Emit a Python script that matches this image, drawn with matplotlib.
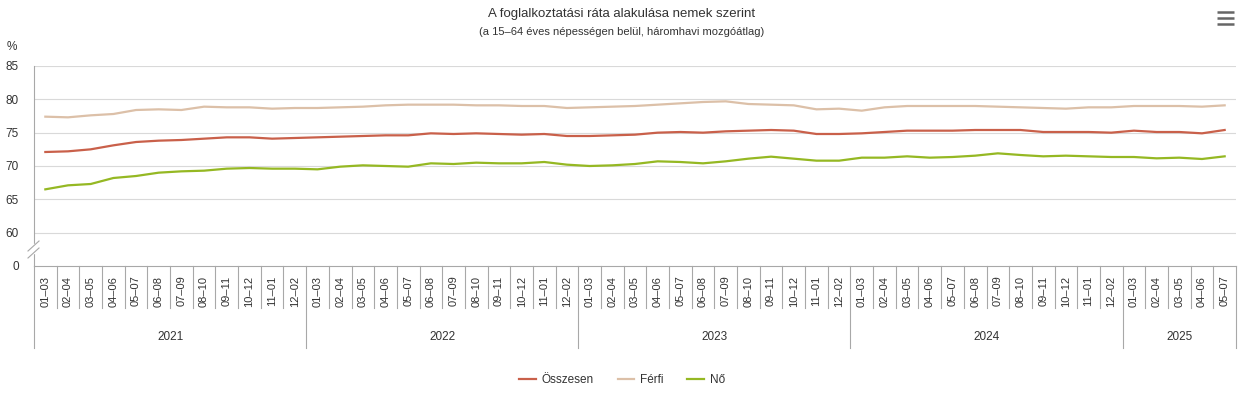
import matplotlib
matplotlib.use("Agg")
import matplotlib.pyplot as plt
from matplotlib.patches import Rectangle
from matplotlib.lines import Line2D
import matplotlib.transforms as mtransforms

plt.rcParams['font.family'] = ['Liberation Sans', 'DejaVu Sans']

years = ["2021", "2022", "2023", "2024", "2025"]
periods_full = ["01–03", "02–04", "03–05", "04–06", "05–07", "06–08",
                "07–09", "08–10", "09–11", "10–12", "11–01", "12–02"]
periods_per_year = [12, 12, 12, 12, 5]

osszesen = [72.1, 72.2, 72.5, 73.1, 73.6, 73.8, 73.9, 74.1, 74.3, 74.3, 74.1, 74.2,
            74.3, 74.4, 74.5, 74.6, 74.6, 74.9, 74.8, 74.9, 74.8, 74.7, 74.8, 74.5,
            74.5, 74.6, 74.7, 75.0, 75.1, 75.0, 75.2, 75.3, 75.4, 75.3, 74.8, 74.8,
            74.9, 75.1, 75.3, 75.3, 75.3, 75.4, 75.4, 75.4, 75.1, 75.1, 75.1, 75.0,
            75.3, 75.1, 75.1, 74.9, 75.4]
ferfi = [77.4, 77.3, 77.6, 77.8, 78.4, 78.5, 78.4, 78.9, 78.8, 78.8, 78.6, 78.7,
         78.7, 78.8, 78.9, 79.1, 79.2, 79.2, 79.2, 79.1, 79.1, 79.0, 79.0, 78.7,
         78.8, 78.9, 79.0, 79.2, 79.4, 79.6, 79.7, 79.3, 79.2, 79.1, 78.5, 78.6,
         78.3, 78.8, 79.0, 79.0, 79.0, 79.0, 78.9, 78.8, 78.7, 78.6, 78.8, 78.8,
         79.0, 79.0, 79.0, 78.9, 79.1]
no = [66.5, 67.1, 67.3, 68.2, 68.5, 69.0, 69.2, 69.3, 69.6, 69.7, 69.6, 69.6,
      69.5, 69.9, 70.1, 70.0, 69.9, 70.4, 70.3, 70.5, 70.4, 70.4, 70.6, 70.2,
      70.0, 70.1, 70.3, 70.7, 70.6, 70.4, 70.7, 71.1, 71.4, 71.1, 70.8, 70.8,
      71.25, 71.25, 71.45, 71.25, 71.35, 71.55, 71.9, 71.65, 71.45, 71.55, 71.45, 71.35,
      71.35, 71.15, 71.25, 71.05, 71.45]

series_names = ["Összesen", "Férfi", "Nő"]
series_colors = ["#C9604A", "#DCC0A8", "#95B823"]

ytick_values = [55, 60, 65, 70, 75, 80, 85]
ytick_labels = ["0", "60", "65", "70", "75", "80", "85"]

title = "A foglalkoztatási ráta alakulása nemek szerint"
subtitle = "(a 15–64 éves népességen belül, háromhavi mozgóátlag)"

W, H = 1245, 393
fig = plt.figure(figsize=(W / 100, H / 100), dpi=100)

def fx(px):
    return px / W

def fy(py):
    return 1 - py / H

L, R, T, B = 34, 1236, 66, 266
ax = fig.add_axes([fx(L), fy(B), fx(R) - fx(L), fy(T) - fy(B)])

cat_labels = []
for y, n in zip(years, periods_per_year):
    cat_labels += periods_full[:n]
x = list(range(len(cat_labels)))

for vals, name, col in zip([osszesen, ferfi, no], series_names, series_colors):
    ax.plot(x, vals, color=col, lw=1.6, label=name, solid_joinstyle='round')

ax.set_xlim(-0.5, len(cat_labels) - 0.5)
ax.set_ylim(55, 85)
ax.set_yticks(ytick_values)
ax.set_yticklabels(ytick_labels)
for v in ytick_values[1:]:
    ax.axhline(v, color="#D9D9D9", lw=0.8, zorder=0)

for s in ["top", "right"]:
    ax.spines[s].set_visible(False)
ax.spines["left"].set_color("#A8A8A8")
ax.spines["bottom"].set_color("#A8A8A8")
ax.spines["left"].set_linewidth(0.8)
ax.spines["bottom"].set_linewidth(0.8)
ax.tick_params(axis="y", length=0, pad=11, labelsize=8.5, labelcolor="#333333")

ax.set_xticks(x)
ax.set_xticklabels(cat_labels, rotation=90, fontsize=8, color="#333333")
ax.tick_params(axis="x", length=0, pad=7)

trans = mtransforms.blended_transform_factory(ax.transData, ax.transAxes)
ax_h = B - T
short_end = -(308 - B) / ax_h
long_end = -(348 - B) / ax_h
year_y = -(337 - B) / ax_h

start = 0
year_bounds = [-0.5]
for n in periods_per_year:
    start += n
    year_bounds.append(start - 0.5)
for b in [i - 0.5 for i in range(len(cat_labels) + 1)]:
    end = long_end if b in year_bounds else short_end
    ax.plot([b, b], [0, end], transform=trans, color="#A8A8A8", lw=0.8,
            clip_on=False)

start = 0
for yname, n in zip(years, periods_per_year):
    ax.text(start + (n - 1) / 2, year_y, yname, transform=trans, ha="center",
            va="center", fontsize=8.5, color="#333333")
    start += n

# axis break marks
fig.patches.append(Rectangle((fx(30), fy(253)), fx(8), fy(244) - fy(253),
                             transform=fig.transFigure, color="white", zorder=5))
for dy in [0, 7]:
    fig.lines.append(Line2D([fx(28), fx(39)], [fy(251 + dy), fy(241 + dy)],
                            transform=fig.transFigure, color="#A8A8A8", lw=0.8,
                            zorder=6))

fig.text(fx(622), fy(14), title, ha="center", va="center", fontsize=9.5,
         color="#333333")
fig.text(fx(622), fy(32), subtitle, ha="center", va="center", fontsize=8,
         color="#333333")
fig.text(fx(7), fy(47), "%", ha="left", va="center", fontsize=8.5,
         color="#333333")

for yy in [11.5, 17.5, 23.5]:
    fig.lines.append(Line2D([fx(1217), fx(1234)], [fy(yy), fy(yy)],
                            transform=fig.transFigure, color="#666666", lw=1.8,
                            solid_capstyle='butt'))

fig.legend(loc="center", bbox_to_anchor=(fx(622), fy(380)), ncol=3,
           frameon=False, fontsize=8.5, handlelength=1.4, columnspacing=2.0,
           handletextpad=0.5, labelcolor="#333333")

fig.savefig("out.png", dpi=100)
